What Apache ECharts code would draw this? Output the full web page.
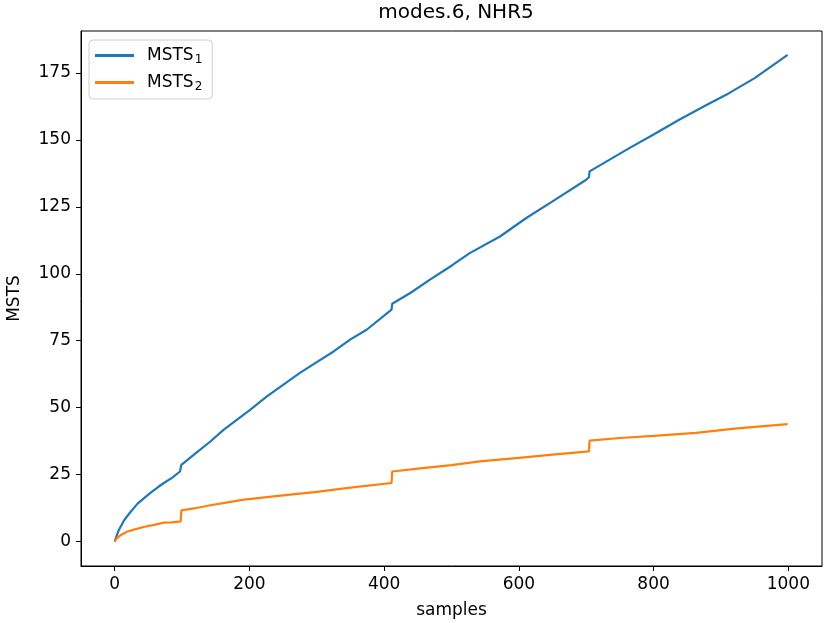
<!DOCTYPE html>
<html>
<head>
<meta charset="utf-8">
<script src="https://cdn.jsdelivr.net/npm/echarts@6/dist/echarts.min.js"></script>
<style>html,body{margin:0;padding:0;background:#fff}#c{width:830px;height:623px}</style>
</head>
<body>
<div id="c"></div>
<script>
var titleText = 'modes.6, NHR5';
var xName = 'samples';
var yName = 'MSTS';
var seriesNames = ['MSTS\u2081', 'MSTS\u2082'];
var legendBase = ['MSTS', 'MSTS'];
var legendSub = ['1', '2'];
var xTicks = [0, 200, 400, 600, 800, 1000];
var yTicks = [0, 25, 50, 75, 100, 125, 150, 175];

var msts1X = [0, 2, 6, 14, 22, 34, 53, 65, 73, 85, 97, 99, 120, 142, 162, 200, 226, 250, 275, 300, 325, 350, 374, 411, 412, 440, 468, 500, 527, 572, 611, 650, 700, 704, 705, 764, 800, 838, 875, 912, 950, 999];
var msts1Y = [0, 1.5, 4.3, 8.0, 10.6, 14.2, 18.2, 20.5, 21.9, 23.8, 26.2, 28.7, 33, 37.4, 41.8, 49, 54.2, 58.5, 63, 67, 71, 75.5, 79.1, 86.6, 88.8, 93, 97.8, 103, 107.7, 113.9, 120.8, 127, 135.1, 136, 138.2, 146.9, 152, 157.5, 162.5, 167.4, 173, 181.7];

var msts2X = [0, 3, 10, 19, 30, 43, 60, 73, 85, 98, 99, 120, 142, 170, 192, 250, 300, 350, 411, 412, 450, 500, 542, 600, 650, 704, 705, 750, 800, 863, 920, 999];
var msts2Y = [0, 1.2, 2.6, 3.8, 4.6, 5.5, 6.4, 7.1, 7.2, 7.6, 11.7, 12.5, 13.6, 14.8, 15.7, 17.3, 18.6, 20.2, 21.9, 26.2, 27.3, 28.6, 30, 31.3, 32.5, 33.7, 37.7, 38.7, 39.5, 40.6, 42.2, 43.9];

function pairs(xs, ys) { return xs.map(function (x, i) { return [x, ys[i]]; }); }
function plain(v) { return String(v); }

var font = 'DejaVu Sans';
var chart = echarts.init(document.getElementById('c'), null, {renderer: 'canvas'});
chart.setOption({
  animation: false,
  backgroundColor: '#fff',
  textStyle: {fontFamily: font},
  title: {
    text: titleText, left: 451, top: -2, textAlign: 'center',
    textStyle: {fontFamily: font, fontSize: 20, fontWeight: 'normal', color: '#000'}
  },
  legend: {
    left: 89, top: 40, orient: 'vertical',
    padding: [7, 10, 6, 6],
    itemGap: 8, itemWidth: 39, itemHeight: 3, icon: 'rect',
    borderColor: '#d0d0d0', borderWidth: 1, borderRadius: 4,
    backgroundColor: 'rgba(255,255,255,0.8)',
    formatter: function (name) {
      var i = seriesNames.indexOf(name);
      return '{m|' + legendBase[i] + '}{s|' + legendSub[i] + '}';
    },
    textStyle: {
      fontFamily: font, fontSize: 17, color: '#000', padding: [0, 0, 0, 8],
      rich: {
        m: {fontFamily: font, fontSize: 17, color: '#000'},
        s: {fontFamily: font, fontSize: 12, color: '#000', padding: [9, 0, 0, 1]}
      }
    },
    data: seriesNames
  },
  grid: {left: 81, right: 8, top: 31, bottom: 57, show: true, borderColor: '#000', borderWidth: 1, containLabel: false, outerBoundsMode: 'none'},
  xAxis: {
    type: 'value', min: -50, max: 1050,
    name: xName, nameLocation: 'middle', nameGap: 36,
    nameTextStyle: {fontFamily: font, fontSize: 17, color: '#000'},
    axisLine: {show: true, onZero: false, lineStyle: {color: '#000', width: 1}},
    axisTick: {show: true, length: 5, lineStyle: {color: '#000'}, customValues: xTicks},
    axisLabel: {fontFamily: font, fontSize: 17, color: '#000', margin: 10, customValues: xTicks, formatter: plain},
    splitLine: {show: false}
  },
  yAxis: {
    type: 'value', min: -9.07, max: 190.6,
    name: yName, nameLocation: 'middle', nameGap: 58, nameRotate: 90,
    nameTextStyle: {fontFamily: font, fontSize: 17, color: '#000'},
    axisLine: {show: true, onZero: false, lineStyle: {color: '#000', width: 1}},
    axisTick: {show: true, length: 5, lineStyle: {color: '#000'}, customValues: yTicks},
    axisLabel: {fontFamily: font, fontSize: 17, color: '#000', margin: 10, customValues: yTicks, formatter: plain},
    splitLine: {show: false}
  },
  series: [
    {name: seriesNames[0], type: 'line', data: pairs(msts1X, msts1Y), showSymbol: false, symbol: 'none',
     lineStyle: {color: '#1f77b4', width: 2.2}, itemStyle: {color: '#1f77b4'}},
    {name: seriesNames[1], type: 'line', data: pairs(msts2X, msts2Y), showSymbol: false, symbol: 'none',
     lineStyle: {color: '#ff7f0e', width: 2.2}, itemStyle: {color: '#ff7f0e'}}
  ]
});
</script>
</body>
</html>
